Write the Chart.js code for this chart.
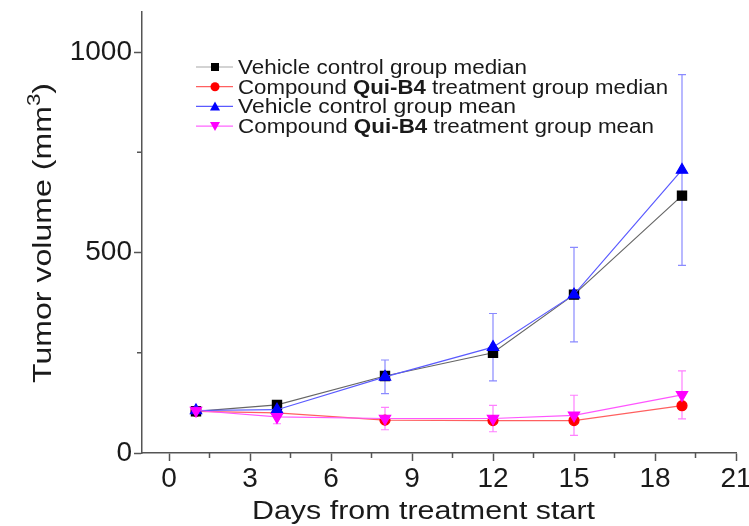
<!DOCTYPE html>
<html>
<head>
<meta charset="utf-8">
<script src="https://cdn.jsdelivr.net/npm/chart.js@4.4.1/dist/chart.umd.min.js"></script>
<style>
  html, body { margin: 0; padding: 0; background: #fff; }
</style>
</head>
<body>
<canvas id="chartjs" width="749" height="526"></canvas>
<script>
// days the tumours were measured
var days = [1, 4, 8, 12, 15, 19]

// tumour volume, mm3
var vehicleMedian = [104, 120, 192, 250, 395, 642]
var quiMedian = [104, 100, 82, 81, 81, 118]
var vehicleMean = [106, 108, 190, 264, 395, 706]
var vehicleMeanErr = [8, 12, 42, 84, 118, 238]
var quiMean = [106, 90, 86, 86, 94, 145]
var quiMeanErr = [8, 17, 28, 33, 50, 60]

var xTicks = [0, 3, 6, 9, 12, 15, 18, 21]
var yTicks = [0, 500, 1000]

var seriesNames = [
  ['Vehicle control group median', '', ''],
  ['Compound ', 'Qui-B4', ' treatment group median'],
  ['Vehicle control group mean', '', ''],
  ['Compound ', 'Qui-B4', ' treatment group mean']
]

const FONT = '"Liberation Sans", Arial, sans-serif'

function toXY(ys) {
  return days.map((d, i) => ({ x: d, y: ys[i] }))
}

// little helper for markers in the legend
function marker(ctx, style, x, y, color) {
  ctx.save()
  ctx.fillStyle = color
  ctx.beginPath()
  if (style === 'rect') {
    ctx.rect(x - 4, y - 4, 8, 8)
  } else if (style === 'circle') {
    ctx.arc(x, y, 4.5, 0, Math.PI * 2)
  } else if (style === 'up') {
    ctx.moveTo(x, y - 5); ctx.lineTo(x + 5, y + 4); ctx.lineTo(x - 5, y + 4)
  } else {
    ctx.moveTo(x, y + 5); ctx.lineTo(x + 5, y - 4); ctx.lineTo(x - 5, y - 4)
  }
  ctx.closePath()
  ctx.fill()
  ctx.restore()
}

// the original's lettering is wider than Arial, so stretch text out to a width
function wideText(ctx, parts, x, y, size, targetW) {
  let w = 0
  parts.forEach(function (p) {
    ctx.font = (p.bold ? 'bold ' : '') + (p.size || size) + 'px ' + FONT
    w += ctx.measureText(p.t).width
  })
  const sx = targetW / w
  ctx.save()
  ctx.translate(x, y)
  ctx.scale(sx, 1)
  let cx = 0
  parts.forEach(function (p) {
    ctx.font = (p.bold ? 'bold ' : '') + (p.size || size) + 'px ' + FONT
    ctx.fillText(p.t, cx, p.dy || 0)
    cx += ctx.measureText(p.t).width
  })
  ctx.restore()
  return w
}

var extras = {
  id: 'extras',
  beforeDatasetsDraw(chart) {
    const ctx = chart.ctx
    const xs = chart.scales.x, ys = chart.scales.y
    const sets = [[vehicleMean, vehicleMeanErr, '#8a8aff'], [quiMean, quiMeanErr, '#ff80ff']]
    ctx.save()
    ctx.lineWidth = 1.2
    sets.forEach(function (s) {
      ctx.strokeStyle = s[2]
      days.forEach(function (d, i) {
        const px = xs.getPixelForValue(d)
        const top = ys.getPixelForValue(s[0][i] + s[1][i])
        const bot = ys.getPixelForValue(s[0][i] - s[1][i])
        ctx.beginPath()
        ctx.moveTo(px, top); ctx.lineTo(px, bot)
        ctx.moveTo(px - 4, top); ctx.lineTo(px + 4, top)
        ctx.moveTo(px - 4, bot); ctx.lineTo(px + 4, bot)
        ctx.stroke()
      })
    })
    ctx.restore()
  },
  afterDraw(chart) {
    const ctx = chart.ctx
    const xs = chart.scales.x, ys = chart.scales.y
    // minor ticks
    ctx.save()
    ctx.strokeStyle = '#555'
    ctx.lineWidth = 1.5
    ctx.beginPath()
    for (let v = 1.5; v < 21; v += 3) {
      const px = xs.getPixelForValue(v)
      ctx.moveTo(px, ys.bottom); ctx.lineTo(px, ys.bottom + 5)
    }
    ;[250, 750].forEach(function (v) {
      const py = ys.getPixelForValue(v)
      ctx.moveTo(xs.left, py); ctx.lineTo(xs.left - 5, py)
    })
    ctx.stroke()

    ctx.fillStyle = '#1a1a1a'
    ctx.textBaseline = 'alphabetic'
    ctx.textAlign = 'left'

    // axis titles
    const xW = 343
    const xMid = 423.5
    wideText(ctx, [{ t: 'Days from treatment start' }], xMid - xW / 2, 519, 25, xW)

    ctx.save()
    ctx.translate(51, 233)
    ctx.rotate(-Math.PI / 2)
    const yW = 300
    wideText(ctx, [{ t: 'Tumor volume (mm' }, { t: '3', size: 18, dy: -11 }, { t: ')' }], -yW / 2, 0, 26, yW)
    ctx.restore()

    // legend, with the bold compound name
    const styles = ['rect', 'circle', 'up', 'down']
    const lineCols = ['#a8a8a8', '#ff6060', '#5a5aff', '#ff66ff']
    const markCols = ['#000000', '#ff0000', '#0000ff', '#ff00ff']
    const widths = [289, 430, 278, 416]
    seriesNames.forEach(function (parts, i) {
      const y = 67 + i * 19.7
      ctx.strokeStyle = lineCols[i]
      ctx.lineWidth = 1.2
      ctx.beginPath()
      ctx.moveTo(196, y); ctx.lineTo(233, y)
      ctx.stroke()
      marker(ctx, styles[i], 215, y, markCols[i])
      ctx.fillStyle = '#1a1a1a'
      const pieces = [{ t: parts[0] }]
      if (parts[1]) {
        pieces.push({ t: parts[1], bold: true })
        pieces.push({ t: parts[2] })
      }
      wideText(ctx, pieces, 238, y + 7, 19.5, widths[i])
    })
    ctx.restore()
  }
}

var ctx = document.getElementById('chartjs').getContext('2d')

var myChart = new Chart(ctx, {
  type: 'line',
  data: {
    datasets: [
      {
        label: 'Vehicle control group median',
        data: toXY(vehicleMedian),
        borderColor: '#666666',
        backgroundColor: '#000',
        pointBorderColor: '#000',
        pointStyle: 'rect',
        pointRadius: 6.5,
        borderWidth: 1.2,
        order: 2
      },
      {
        label: 'Compound Qui-B4 treatment group median',
        data: toXY(quiMedian),
        borderColor: '#ff6060',
        backgroundColor: '#ff0000',
        pointBorderColor: '#ff0000',
        pointStyle: 'circle',
        pointRadius: 5,
        borderWidth: 1.2,
        order: 3
      },
      {
        label: 'Vehicle control group mean',
        data: toXY(vehicleMean),
        borderColor: '#5a5aff',
        backgroundColor: '#0000ff',
        pointBorderColor: '#0000ff',
        pointStyle: 'triangle',
        pointRadius: 6.5,
        borderWidth: 1.2,
        order: 1
      },
      {
        label: 'Compound Qui-B4 treatment group mean',
        data: toXY(quiMean),
        borderColor: '#ff55ff',
        backgroundColor: '#ff00ff',
        pointBorderColor: '#ff00ff',
        pointStyle: 'triangle',
        rotation: 180,
        pointRadius: 6.5,
        borderWidth: 1.2,
        order: 0
      }
    ]
  },
  options: {
    responsive: false,
    animation: false,
    layout: { padding: { top: 12, right: 13, left: 0, bottom: 0 } },
    plugins: {
      legend: { display: false },
      tooltip: { enabled: false }
    },
    scales: {
      x: {
        type: 'linear',
        min: -1,
        max: 21,
        afterBuildTicks: function (scale) { scale.ticks = xTicks.map(v => ({ value: v })) },
        afterFit: function (scale) {
          scale.height = 73
          scale.paddingLeft = 0
          scale.paddingRight = 0
        },
        grid: { drawOnChartArea: false, drawTicks: true, tickLength: 8, tickColor: '#555', tickWidth: 1.5 },
        border: { color: '#555', width: 1.5 },
        ticks: { font: { family: FONT, size: 28 }, color: '#1a1a1a', padding: 1, maxRotation: 0, callback: v => String(v) }
      },
      y: {
        type: 'linear',
        min: 0,
        max: 1100,
        afterBuildTicks: function (scale) { scale.ticks = yTicks.map(v => ({ value: v })) },
        afterFit: function (scale) {
          scale.width = 142
          scale.paddingTop = 0
          scale.paddingBottom = 0
        },
        grid: { drawOnChartArea: false, drawTicks: true, tickLength: 8, tickColor: '#555', tickWidth: 1.5 },
        border: { color: '#555', width: 1.5 },
        ticks: { font: { family: FONT, size: 28 }, color: '#1a1a1a', padding: 2, callback: v => String(v) }
      }
    }
  },
  plugins: [extras]
})
</script>
</body>
</html>
